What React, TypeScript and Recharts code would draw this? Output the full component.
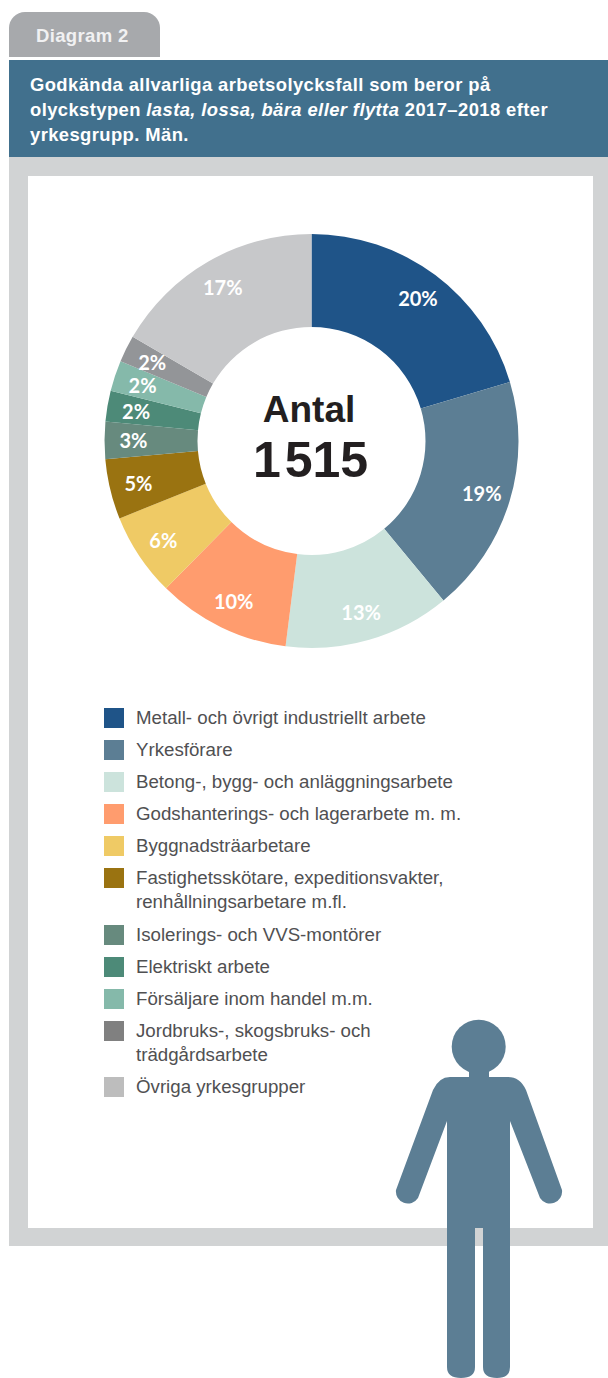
import { Legend, Pie, PieChart } from 'recharts'

const categories = [
  'Metall- och övrigt industriellt arbete',
  'Yrkesförare',
  'Betong-, bygg- och anläggningsarbete',
  'Godshanterings- och lagerarbete m. m.',
  'Byggnadsträarbetare',
  'Fastighetsskötare, expeditionsvakter,\nrenhållningsarbetare m.fl.',
  'Isolerings- och VVS-montörer',
  'Elektriskt arbete',
  'Försäljare inom handel m.m.',
  'Jordbruks-, skogsbruks- och\nträdgårdsarbete',
  'Övriga yrkesgrupper',
]
// shares in percent
const shares = [20.4, 18.6, 13.0, 10.4, 6.5, 4.7, 2.9, 2.4, 2.4, 2.1, 16.6]
const labels = ['20%', '19%', '13%', '10%', '6%', '5%', '3%', '2%', '2%', '2%', '17%']
const sliceColors = ['#1f5488', '#5c7e94', '#cce3dc', '#ff9c6e', '#efca65', '#9a7311', '#678a7e', '#4d8a78', '#85b9aa', '#939598', '#c7c8ca']
const legendColors = ['#1f5488', '#5c7e94', '#cce3dc', '#ff9c6e', '#efca65', '#9a7311', '#678a7e', '#4d8a78', '#85b9aa', '#808080', '#bdbdbd']

const chartData = categories.map((name, i) => ({ name, value: shares[i], fill: sliceColors[i] }))

const RADIAN = Math.PI / 180
const sans = '"Liberation Sans", Arial, sans-serif'

function SliceLabel({ cx, cy, midAngle, index }: any) {
  const r = 178
  return (
    <text
      x={cx + r * Math.cos(-midAngle * RADIAN)}
      y={cy + r * Math.sin(-midAngle * RADIAN)}
      fill='#fff'
      fontFamily='Lato, sans-serif'
      fontWeight={700}
      fontSize={20}
      textAnchor='middle'
      dominantBaseline='central'
    >
      {labels[index]}
    </text>
  )
}

function LegendList() {
  return (
    <div style={{ fontFamily: sans, fontSize: 18.7, lineHeight: '24px', color: '#505052' }}>
      {categories.map((name, i) => (
        <div key={name} style={{ display: 'flex', paddingBottom: 8.2 }}>
          <div style={{ width: 20, height: 20, marginTop: 2, marginRight: 12, flex: 'none', background: legendColors[i] }} />
          <div style={{ whiteSpace: 'pre-line' }}>{name}</div>
        </div>
      ))}
    </div>
  )
}

function Person() {
  return (
    <svg width={608} height={1378} style={{ position: 'absolute', left: 0, top: 0 }}>
      <circle cx={478.7} cy={1046.7} r={27} fill='#5c7e94' />
      <path
        fill='#5c7e94'
        d='M469 1070 H489 V1077 H508 Q520 1077 526 1090 L562 1190 A12 12 0 0 1 540 1198 L510 1121 V1367 Q510 1378 497 1378 Q483 1378 483 1367 V1228 H475 V1367 Q475 1378 461 1378 Q447 1378 447 1367 V1121 L418 1198 A12 12 0 0 1 396 1190 L433 1090 Q439 1077 450 1077 H469 Z'
      />
    </svg>
  )
}

export default function App() {
  return (
    <div style={{ position: 'absolute', left: 0, top: 0, width: 608, height: 1378, background: '#fff', overflow: 'hidden' }}>
      <div style={{ position: 'absolute', left: 9, top: 12, width: 151, height: 45, background: '#a7a9ac', borderRadius: '16px 16px 0 0' }} />
      <div style={{ position: 'absolute', left: 36, top: 26, fontFamily: sans, fontWeight: 700, fontSize: 18.5, letterSpacing: 0.35, lineHeight: '20px', color: '#f1f1f2' }}>Diagram 2</div>
      <div style={{ position: 'absolute', left: 9, top: 60, width: 599, height: 97, background: '#41708d' }} />
      <div style={{ position: 'absolute', left: 30, top: 72, width: 570, fontFamily: sans, fontWeight: 700, fontSize: 18.4, letterSpacing: 0.41, lineHeight: '25px', color: '#fff', whiteSpace: 'nowrap' }}>
        Godkända allvarliga arbetsolycksfall som beror på
        <br />
        olyckstypen <i>lasta, lossa, bära eller flytta</i> 2017–2018 efter
        <br />
        yrkesgrupp. Män.
      </div>
      <div style={{ position: 'absolute', left: 9, top: 157, width: 599, height: 1089, background: '#d1d3d4' }} />
      <div style={{ position: 'absolute', left: 28, top: 176, width: 565, height: 1052, background: '#fff' }} />
      <div style={{ position: 'absolute', left: 0, top: 0 }}>
        <PieChart width={608} height={1378} margin={{ top: 0, right: 0, bottom: 0, left: 0 }}>
          <Pie
            data={chartData}
            dataKey='value'
            nameKey='name'
            cx={311.5}
            cy={441}
            innerRadius={114}
            outerRadius={207}
            startAngle={90}
            endAngle={-270}
            stroke='none'
            label={SliceLabel}
            labelLine={false}
            isAnimationActive={false}
          />
          <text x={309} y={409} textAnchor='middle' dominantBaseline='central' fontFamily={sans} fontWeight={700} fontSize={37} fill='#231f20'>
            Antal
          </text>
          <text x={310.5} y={460} textAnchor='middle' dominantBaseline='central' fontFamily={sans} fontWeight={700} fontSize={50} fill='#231f20'>
            1<tspan dx={4}>515</tspan>
          </text>
          <Legend
            layout='horizontal'
            verticalAlign='bottom'
            align='left'
            content={<LegendList />}
            wrapperStyle={{ position: 'absolute', left: 104, top: 705.5, bottom: 'auto', width: 450 }}
          />
        </PieChart>
      </div>
      <Person />
    </div>
  )
}
